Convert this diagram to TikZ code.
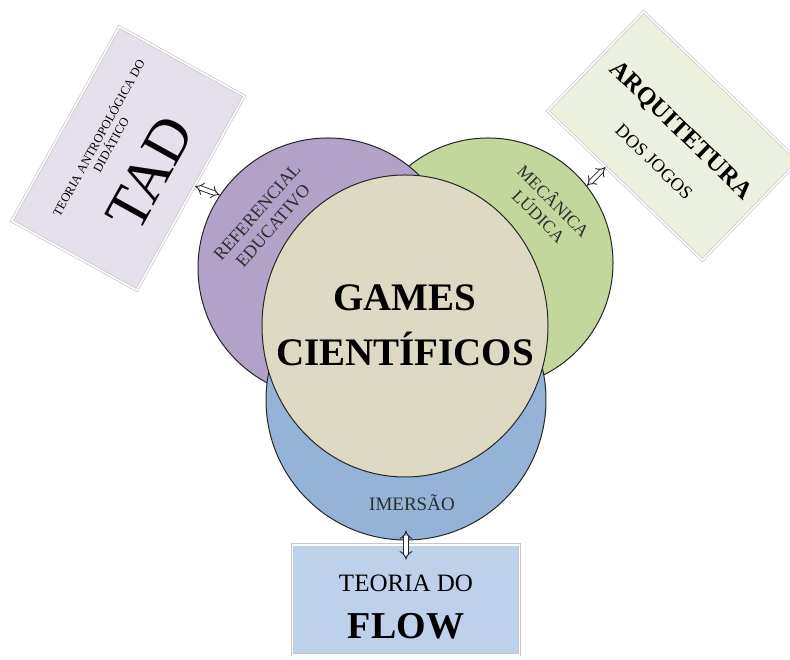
\documentclass[tikz,border=0pt]{standalone}
\usepackage{fontspec}
\setmainfont{Liberation Serif}
\usepackage{tikz}
\usetikzlibrary{shapes.geometric, arrows.meta, calc}
\definecolor{refpurple}{RGB}{178, 162, 199}
\definecolor{mecgreen}{RGB}{195, 214, 155}
\definecolor{imblue}{RGB}{149, 179, 215}
\definecolor{gamesbeige}{RGB}{221, 217, 195}
\definecolor{tadlilac}{RGB}{229, 224, 236}
\definecolor{arqgreen}{RGB}{235, 241, 222}
\definecolor{flowblue}{RGB}{190, 209, 234}
\definecolor{labelgray}{RGB}{45, 45, 45}
\newcommand{\fsz}[2]{\fontsize{#1}{#2}\selectfont}
\tikzset{
  ring/.style={circle, draw=black!85, line width=1pt, inner sep=0pt},
  cardbox/.style={rectangle, draw=gray!45, double=white, double distance=1.6pt, line width=0.7pt, inner sep=0pt},
  cardtext/.style={inner sep=0pt, align=center},
  ringtext/.style={cardtext, text=labelgray},
  linkarrow/.style={{Implies}-{Implies}, draw=black!85, line width=0.9pt, double=white, double distance=3.6pt},
}

\begin{document}
\begin{tikzpicture}[x=1pt, y=1pt]
  \useasboundingbox (0,0) rectangle (790,660);
  % cards
  \node[cardbox, fill=tadlilac, minimum width=222pt, minimum height=143pt, rotate=61] (tad) at (128,501.5) {};
  \node[cardtext, rotate=61, font=\fsz{12.5}{14}] (tadsub) at (104,519) {TEORIA ANTROPOLÓGICA DO\\DIDÁTICO};
  \node[cardtext, rotate=61, font=\fsz{60}{60}] (tadname) at (150,487) {TAD};
  \node[cardbox, fill=arqgreen, minimum width=215pt, minimum height=138pt, rotate=-44] (arq) at (673,524) {};
  \node[cardtext, rotate=-44, font=\fsz{25}{25}\bfseries] (arqname) at (680,529) {ARQUITETURA};
  \node[cardtext, rotate=-44, font=\fsz{18.5}{20}] (arqsub) at (654,498) {DOS JOGOS};
  \node[cardbox, fill=flowblue, minimum width=227pt, minimum height=110pt] (flow) at (406,60) {};
  \node[cardtext, font=\fsz{25}{25}] (flowsub) at (406,77) {TEORIA DO};
  \node[cardtext, font=\fsz{38}{38}\bfseries] (flowname) at (406,33.5) {FLOW};
  % circles
  \node[ring, fill=mecgreen, minimum size=250pt] (meca) at (488,397) {};
  \node[ring, fill=refpurple, minimum size=260pt] (ref) at (328,392) {};
  \node[ring, fill=imblue, minimum size=280pt] (imers) at (406,260) {};
  \node[ring, ellipse, fill=gamesbeige, minimum width=286pt, minimum height=302pt] (games) at (405,334) {};
  \node[ringtext, rotate=49, font=\fsz{18}{21}] (reflab) at (265,441) {REFERENCIAL\\EDUCATIVO};
  \node[ringtext, rotate=-45, font=\fsz{17.5}{21}] (mecalab) at (547,452) {MECÂNICA\\LÚDICA};
  \node[ringtext, font=\fsz{19}{20}] (imlab) at (412,157) {IMERSÃO};
  \node[cardtext, font=\fsz{39}{55}\bfseries] (gameslab) at (405,335) {GAMES\\CIENTÍFICOS};
  % links
  \draw[linkarrow] (ref.146) -- ($(tad.south)!0.075!(tad.south east)$);
  \draw[linkarrow] (meca.38) -- ($(arq.south)!0.25!(arq.south west)$);
  \draw[linkarrow] ([yshift=10pt]imers.south) -- ([yshift=-15pt]flow.north);
\end{tikzpicture}
\end{document}
